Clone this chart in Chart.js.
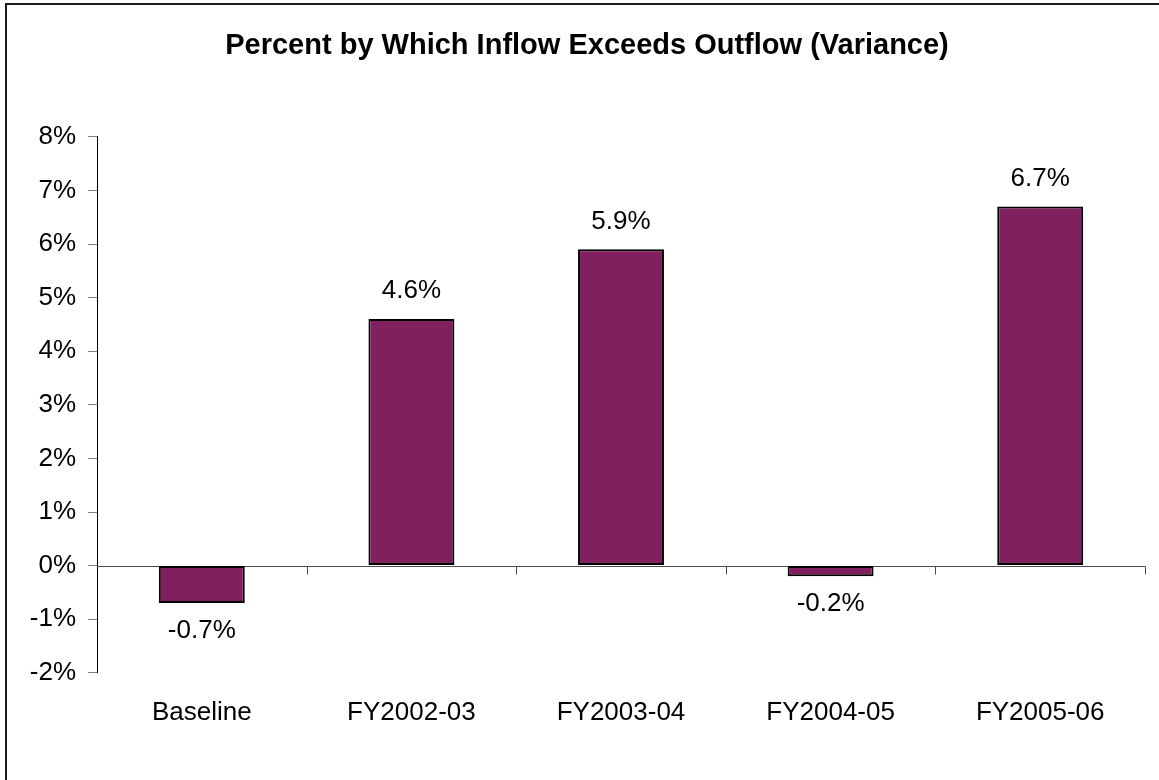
<!DOCTYPE html>
<html>
<head>
<meta charset="utf-8">
<script src="https://cdn.jsdelivr.net/npm/chart.js@4"></script>
<style>
  html, body { margin: 0; padding: 0; background: #fff; overflow: hidden; }
  #wrap { position: relative; width: 1159px; height: 780px; }
  #frame { position: absolute; left: 5px; top: 3px; width: 1300px; height: 900px;
           border-left: 2px solid #1a1a1a; border-top: 2px solid #1a1a1a; pointer-events: none; }
  canvas { position: absolute; left: 0; top: 0; }
</style>
</head>
<body>
<div id="wrap">
  <canvas id="chart" width="1159" height="780"></canvas>
  <div id="frame"></div>
</div>
<script>
// data
const categories = ["Baseline", "FY2002-03", "FY2003-04", "FY2004-05", "FY2005-06"];
const variance = [-0.7, 4.6, 5.9, -0.2, 6.7];
const yTicks = [-2, -1, 0, 1, 2, 3, 4, 5, 6, 7, 8];

const FONT = "'Liberation Sans', Arial, sans-serif";

// zero line with category tick marks, drawn where the value 0 sits
const zeroAxis = {
  id: "zeroAxis",
  beforeDatasetsDraw(chart) {
    const { ctx, chartArea, scales } = chart;
    const y0 = Math.round(scales.y.getPixelForValue(0)) + 0.5;
    ctx.save();
    ctx.strokeStyle = "#4a4a4a";
    ctx.lineWidth = 1;
    ctx.beginPath();
    ctx.moveTo(chartArea.left, y0);
    ctx.lineTo(chartArea.right, y0);
    for (let i = 1; i <= categories.length; i++) {
      const x = Math.round(scales.x.getPixelForValue(i - 0.5)) + 0.5;
      ctx.moveTo(x, y0);
      ctx.lineTo(x, y0 + 8);
    }
    ctx.stroke();
    ctx.restore();
  },
};

// value labels above positive bars, below negative ones
const barLabels = {
  id: "barLabels",
  afterDatasetsDraw(chart) {
    const { ctx } = chart;
    const meta = chart.getDatasetMeta(0);
    ctx.save();
    ctx.font = "26px " + FONT;
    ctx.fillStyle = "#000";
    ctx.textAlign = "center";
    ctx.textBaseline = "middle";
    meta.data.forEach((bar, i) => {
      const v = variance[i];
      const y = v >= 0 ? bar.y - 28 : bar.y + 28;
      ctx.fillText(v.toFixed(1) + "%", bar.x, y);
    });
    ctx.restore();
  },
};

new Chart(document.getElementById("chart").getContext("2d"), {
  type: "bar",
  data: {
    labels: categories,
    datasets: [{
      data: variance,
      backgroundColor: "#80205F",
      borderColor: "#000",
      borderWidth: 2,
      borderSkipped: false,
      categoryPercentage: 1,
      barPercentage: 0.41,
    }],
  },
  options: {
    responsive: false,
    animation: false,
    events: [],
    layout: { padding: { left: 29, right: 14, top: 0, bottom: 28 } },
    plugins: {
      legend: { display: false },
      tooltip: { enabled: false },
      title: {
        display: true,
        text: "Percent by Which Inflow Exceeds Outflow (Variance)",
        color: "#000",
        font: { family: FONT, size: 29, weight: "bold", lineHeight: 1.2 },
        padding: { top: 29, bottom: 73 },
      },
    },
    scales: {
      x: {
        grid: { display: false, drawTicks: false },
        border: { display: false },
        ticks: { color: "#000", font: { family: FONT, size: 26 }, padding: 24, maxRotation: 0 },
      },
      y: {
        min: -2,
        max: 8,
        afterBuildTicks(axis) { axis.ticks = yTicks.map(v => ({ value: v })); },
        afterFit(axis) { axis.width = 68; },
        grid: { drawOnChartArea: false, drawTicks: true, tickLength: 9, color: "#808080" },
        border: { display: true, color: "#000", width: 1 },
        ticks: {
          color: "#000",
          font: { family: FONT, size: 26 },
          padding: 12,
          callback: v => v + "%",
        },
      },
    },
  },
  plugins: [zeroAxis, barLabels],
});
</script>
</body>
</html>
